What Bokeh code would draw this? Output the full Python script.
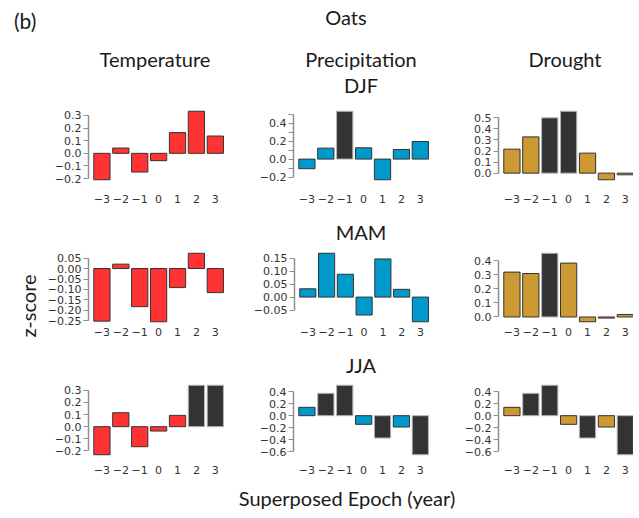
from bokeh.plotting import figure
from bokeh.layouts import column, row
from bokeh.models import Div, FixedTicker, Range1d, ColumnDataSource
from bokeh.embed import file_html
from bokeh.resources import INLINE

# ---------------- data ----------------
epochs = [-3, -2, -1, 0, 1, 2, 3]
epoch_labels = ["\u22123", "\u22122", "\u22121", "0", "1", "2", "3"]

temp_djf = [-0.209, 0.042, -0.148, -0.058, 0.164, 0.333, 0.137]
prec_djf = [-0.107, 0.122, 0.533, 0.126, -0.230, 0.107, 0.196]
drgt_djf = [0.217, 0.328, 0.500, 0.560, 0.181, -0.060, -0.015]
temp_mam = [-0.251, 0.021, -0.182, -0.254, -0.091, 0.073, -0.115]
prec_mam = [0.032, 0.169, 0.088, -0.069, 0.147, 0.030, -0.095]
drgt_mam = [0.319, 0.309, 0.453, 0.383, -0.034, -0.008, 0.018]
temp_jja = [-0.231, 0.115, -0.165, -0.036, 0.093, 0.341, 0.341]
prec_jja = [0.139, 0.372, 0.506, -0.144, -0.372, -0.189, -0.650]
drgt_jja = [0.139, 0.372, 0.506, -0.144, -0.372, -0.189, -0.650]

# significant (dark) bars
temp_djf_sig = [0, 0, 0, 0, 0, 0, 0]
prec_djf_sig = [0, 0, 1, 0, 0, 0, 0]
drgt_djf_sig = [0, 0, 1, 1, 0, 0, 0]
temp_mam_sig = [0, 0, 0, 0, 0, 0, 0]
prec_mam_sig = [0, 0, 0, 0, 0, 0, 0]
drgt_mam_sig = [0, 0, 1, 0, 0, 0, 0]
temp_jja_sig = [0, 0, 0, 0, 0, 1, 1]
prec_jja_sig = [0, 1, 1, 0, 1, 0, 1]
drgt_jja_sig = [0, 1, 1, 0, 1, 0, 1]

# y ticks and labels
temp_djf_ticks = [-0.2, -0.1, 0, 0.1, 0.2, 0.3]
temp_djf_tlabels = ["\u22120.2", "\u22120.1", "0.0", "0.1", "0.2", "0.3"]
prec_djf_ticks = [-0.2, -0.1, 0, 0.1, 0.2, 0.3, 0.4, 0.5]
prec_djf_tlabels = ["\u22120.2", "", "0.0", "", "0.2", "", "0.4", ""]
drgt_djf_ticks = [0, 0.1, 0.2, 0.3, 0.4, 0.5]
drgt_djf_tlabels = ["0.0", "0.1", "0.2", "0.3", "0.4", "0.5"]
temp_mam_ticks = [-0.25, -0.2, -0.15, -0.1, -0.05, 0, 0.05]
temp_mam_tlabels = ["\u22120.25", "\u22120.20", "\u22120.15", "\u22120.10", "\u22120.05", "0.00", "0.05"]
prec_mam_ticks = [-0.05, 0, 0.05, 0.1, 0.15]
prec_mam_tlabels = ["\u22120.05", "0.00", "0.05", "0.10", "0.15"]
drgt_mam_ticks = [0, 0.1, 0.2, 0.3, 0.4]
drgt_mam_tlabels = ["0.0", "0.1", "0.2", "0.3", "0.4"]
temp_jja_ticks = [-0.2, -0.1, 0, 0.1, 0.2, 0.3]
temp_jja_tlabels = ["\u22120.2", "\u22120.1", "0.0", "0.1", "0.2", "0.3"]
prec_jja_ticks = [-0.6, -0.4, -0.2, 0, 0.2, 0.4]
prec_jja_tlabels = ["\u22120.6", "\u22120.4", "\u22120.2", "0.0", "0.2", "0.4"]
drgt_jja_ticks = [-0.6, -0.4, -0.2, 0, 0.2, 0.4]
drgt_jja_tlabels = ["\u22120.6", "\u22120.4", "\u22120.2", "0.0", "0.2", "0.4"]

# ---------------- styles ----------------
TEMP_C = "#FF3333"
PREC_C = "#0099CC"
DRGT_C = "#CC9933"
SIG_C = "#333333"
TICK_FONT = "DejaVu Sans"
TICK_SIZE = "11px"
HEAD_FONT = "Lato"

X0 = -3.71
UNIT = 18.9  # px per epoch unit


def key(t):
    return int(t) if float(t).is_integer() else t


def panel(vals, sig, color, ticks, tlabels, frame_w, frame_h, mbl, mbr, mbt, mbb, standoff):
    lo = min(0, min(vals))
    hi = max(0, max(vals))
    pad = 0.04 * (hi - lo)
    x_end = X0 + frame_w / UNIT
    p = figure(width=mbl + frame_w + mbr, height=mbt + frame_h + mbb,
               x_range=Range1d(X0, x_end), y_range=Range1d(lo - pad, hi + pad),
               output_backend="svg", toolbar_location=None,
               min_border_left=mbl, min_border_right=mbr,
               min_border_top=mbt, min_border_bottom=mbb)
    p.outline_line_color = None
    p.xgrid.visible = False
    p.ygrid.visible = False
    p.background_fill_color = "white"
    p.border_fill_color = "white"
    fills = [SIG_C if s else color for s in sig]
    lines = ["#b5b5b5" if s else "#333333" for s in sig]
    src = ColumnDataSource(dict(x=epochs, top=vals, fill=fills, line=lines))
    p.vbar(x="x", top="top", bottom=0, width=0.86, fill_color="fill",
           line_color="line", line_width=1, source=src)

    xa = p.xaxis[0]
    xa.ticker = FixedTicker(ticks=epochs)
    xa.major_label_overrides = {key(e): l for e, l in zip(epochs, epoch_labels)}
    xa.axis_line_color = None
    xa.major_tick_line_color = None
    xa.minor_tick_line_color = None
    xa.major_tick_out = 0
    xa.major_tick_in = 0
    xa.major_label_standoff = standoff
    xa.major_label_text_font = TICK_FONT
    xa.major_label_text_font_size = TICK_SIZE
    xa.major_label_text_color = "#333333"

    ya = p.yaxis[0]
    ya.ticker = FixedTicker(ticks=ticks)
    ya.major_label_overrides = {key(t): l for t, l in zip(ticks, tlabels)}
    ya.bounds = (min(ticks), max(ticks))
    ya.axis_line_color = "#8f8f8f"
    ya.axis_line_width = 1.5
    ya.major_tick_line_color = "#8f8f8f"
    ya.major_tick_line_width = 1.2
    ya.major_tick_out = 5
    ya.major_tick_in = 0
    ya.minor_tick_line_color = None
    ya.major_label_standoff = 2
    ya.major_label_text_font = TICK_FONT
    ya.major_label_text_font_size = TICK_SIZE
    ya.major_label_text_color = "#333333"
    return p


def make_row(data, fh, mbt, mbb, standoff):
    (v1, s1, t1, l1), (v2, s2, t2, l2), (v3, s3, t3, l3) = data
    p1 = panel(v1, s1, TEMP_C, t1, l1, 140, fh, 48, 22, mbt, mbb, standoff)
    p2 = panel(v2, s2, PREC_C, t2, l2, 140, fh, 43, 22, mbt, mbb, standoff)
    p3 = panel(v3, s3, DRGT_C, t3, l3, 135, fh, 43, 0, mbt, mbb, standoff)
    return row(p1, p2, p3, spacing=0)


row1 = make_row([(temp_djf, temp_djf_sig, temp_djf_ticks, temp_djf_tlabels),
                 (prec_djf, prec_djf_sig, prec_djf_ticks, prec_djf_tlabels),
                 (drgt_djf, drgt_djf_sig, drgt_djf_ticks, drgt_djf_tlabels)],
                74, 10, 30, 12)
row2 = make_row([(temp_mam, temp_mam_sig, temp_mam_ticks, temp_mam_tlabels),
                 (prec_mam, prec_mam_sig, prec_mam_ticks, prec_mam_tlabels),
                 (drgt_mam, drgt_mam_sig, drgt_mam_ticks, drgt_mam_tlabels)],
                74, 7, 18, 3)
row3 = make_row([(temp_jja, temp_jja_sig, temp_jja_ticks, temp_jja_tlabels),
                 (prec_jja, prec_jja_sig, prec_jja_ticks, prec_jja_tlabels),
                 (drgt_jja, drgt_jja_sig, drgt_jja_ticks, drgt_jja_tlabels)],
                75, 8, 22, 8)


def txt(s, cx, cy, size, rotate=False, left_align=False):
    tr = "translate(-50%,-50%)"
    if left_align:
        tr = "translate(0,-50%)"
    if rotate:
        tr += " rotate(-90deg)"
    return (f'<div style="position:absolute;left:{cx}px;top:{cy}px;transform:{tr};'
            f'white-space:nowrap;font-family:{HEAD_FONT};font-size:{size}px;line-height:1;'
            f'color:#1a1a1a;">{s}</div>')


def box(w, h, inner):
    return Div(text=f'<div style="position:relative;display:block;width:{w}px;height:{h}px;">{inner}</div>',
               width=w, height=h)


HS = 20
header = box(623, 88,
             txt("(b)", 9, 15, 21, left_align=True)
             + txt("Oats", 341, 12, HS)
             + txt("Temperature", 150, 54, HS)
             + txt("Precipitation", 356, 54, HS)
             + txt("Drought", 560, 54, HS)
             + txt("DJF", 356, 80, HS))
mam = box(593, 21, txt("MAM", 316, 15, HS))
jja = box(593, 22, txt("JJA", 316, 18, HS))
zdiv = box(30, 361, txt("z-score", 23, 203, HS, rotate=True))
bottom = box(623, 27, txt("Superposed Epoch (year)", 342, 14, HS))

layout = column(header,
                row(zdiv, column(row1, mam, row2, jja, row3, spacing=0), spacing=0),
                bottom, spacing=0)

open("out.html", "w").write(file_html(layout, INLINE))
